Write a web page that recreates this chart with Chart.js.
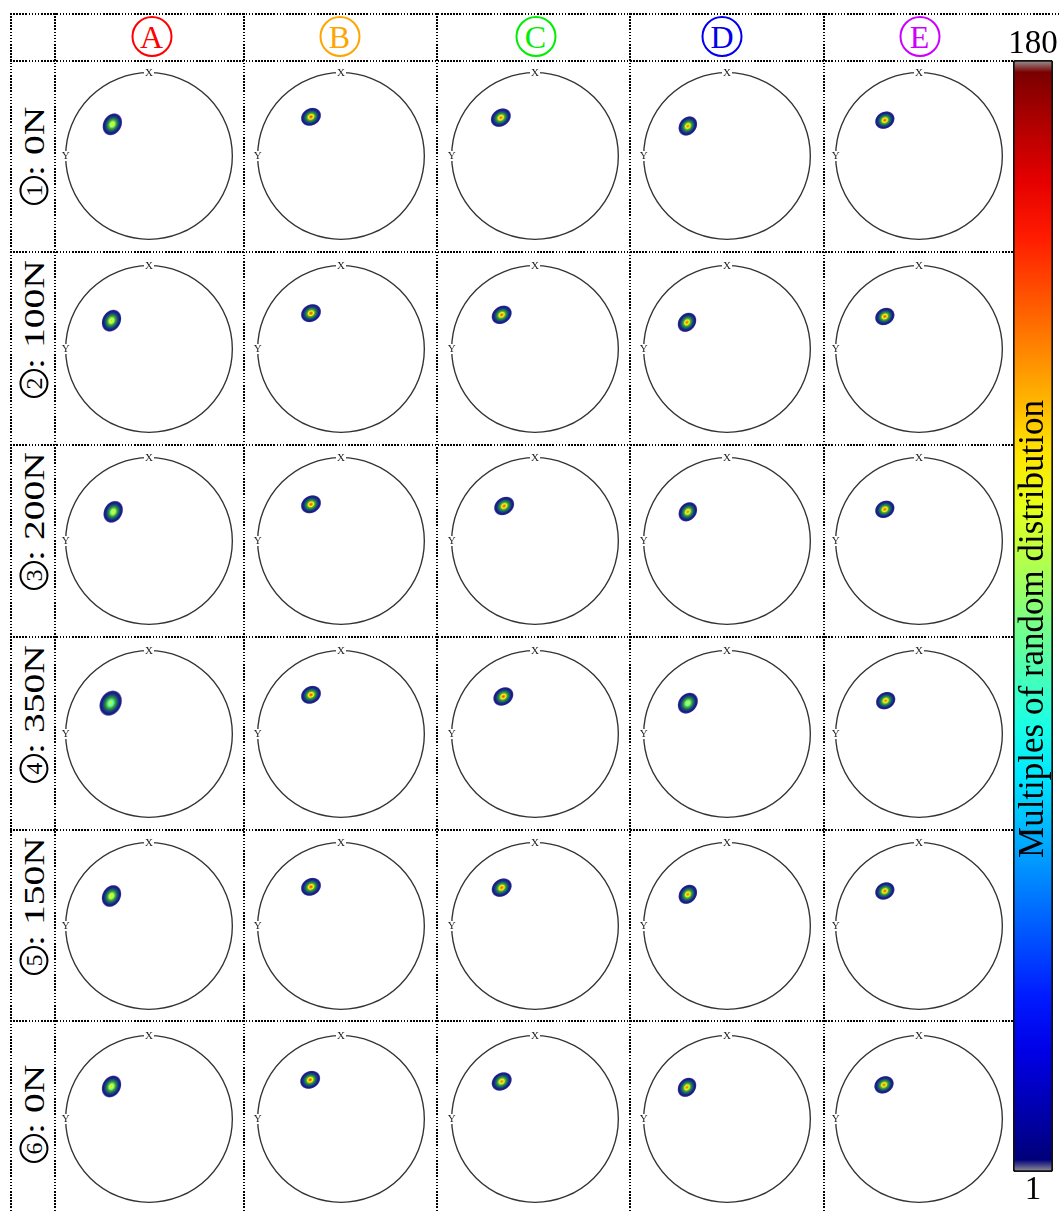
<!DOCTYPE html>
<html><head><meta charset="utf-8">
<script src="https://cdn.jsdelivr.net/npm/chart.js@4.4.1/dist/chart.umd.min.js"></script>
<style>
html,body{margin:0;padding:0;background:#fff;}
#page{position:relative;width:1061px;height:1212px;overflow:hidden;font-family:"Liberation Serif","Times New Roman",serif;}
.hl{position:absolute;height:2px;background:repeating-linear-gradient(to right,#000 0 1.6px,transparent 1.6px 3.1px);}
.vl{position:absolute;width:2px;background:repeating-linear-gradient(to bottom,#000 0 1.6px,transparent 1.6px 3.1px);}
.hdr{position:absolute;top:16px;width:37px;height:37px;border:2px solid;border-radius:50%;text-align:center;line-height:39px;font-size:32px;transform:translateX(-50%);}
.rl{position:absolute;left:33px;transform-origin:0 0;transform:rotate(-90deg) translateY(-50%);white-space:nowrap;font-size:30px;line-height:34px;color:#000;}
.rl .tx{display:inline-block;transform-origin:0 50%;transform:scaleX(1.32);vertical-align:middle;}
.cd{display:inline-block;width:25px;height:25px;border:2px solid #000;border-radius:50%;text-align:center;line-height:27px;font-size:24px;vertical-align:middle;position:relative;top:-1px;}
.pf{position:absolute;width:190px;height:190px;}
</style></head>
<body><div id="page"></div>
<script>
// ---------------- DATA ----------------
const columns = ['A', 'B', 'C', 'D', 'E'];
const rowNumbers = ['1', '2', '3', '4', '5', '6'];
const loads = ['0N', '100N', '200N', '350N', '150N', '0N'];
// pole-figure coordinates of the main texture peak (unit circle, X up, Y left negative)
const spotX = [
  [-0.44, -0.36, -0.41, -0.47, -0.41],
  [-0.45, -0.36, -0.40, -0.48, -0.41],
  [-0.43, -0.36, -0.37, -0.47, -0.41],
  [-0.46, -0.36, -0.38, -0.47, -0.40],
  [-0.45, -0.36, -0.40, -0.47, -0.41],
  [-0.45, -0.37, -0.40, -0.48, -0.42]
];
const spotY = [
  [0.38, 0.47, 0.46, 0.36, 0.43],
  [0.34, 0.43, 0.41, 0.32, 0.39],
  [0.35, 0.44, 0.42, 0.35, 0.38],
  [0.37, 0.47, 0.45, 0.37, 0.40],
  [0.36, 0.47, 0.46, 0.38, 0.42],
  [0.39, 0.47, 0.45, 0.38, 0.41]
];
// peak intensity (multiples of random distribution)
const peakMRD = [
  [122, 152, 145, 142, 150],
  [124, 152, 148, 145, 150],
  [120, 150, 148, 140, 148],
  [108, 152, 150, 112, 142],
  [124, 152, 148, 142, 148],
  [120, 152, 142, 142, 145]
];
// relative spread of the peak
const spread = [
  [1.0, 1.0, 1.0, 1.0, 1.0],
  [1.0, 1.0, 1.0, 1.0, 1.0],
  [1.0, 1.0, 1.0, 1.0, 1.0],
  [1.15, 1.0, 1.0, 1.08, 1.0],
  [1.0, 1.0, 1.0, 1.0, 1.0],
  [1.0, 1.0, 1.0, 1.0, 1.0]
];
const colorbarRange = [1, 180];
const colorbarTitle = 'Multiples of random distribution';

// ---------------- LAYOUT / STYLE ----------------
const page = document.getElementById('page');
const headerColors = ['#ff0000', '#ffa500', '#00ee00', '#0000ee', '#cc00ff'];
const headerX = [151.5, 339.5, 535.5, 722, 919.5];
const cellCX = [148.5, 341, 534.5, 727, 919];
const cellCY = [156, 348.5, 541, 733.5, 926, 1118.5];
const labelStartY = [205, 397.5, 590, 782.5, 975, 1163];
const spotShape = [ // semi-major, semi-minor (units of circle radius), tilt deg
  [0.145, 0.115, 60], [0.132, 0.108, 30], [0.135, 0.108, 35], [0.132, 0.107, 50], [0.128, 0.105, 30]
];

function addDiv(cls, style, html) {
  const d = document.createElement('div');
  d.className = cls; Object.assign(d.style, style);
  if (html !== undefined) d.innerHTML = html;
  page.appendChild(d); return d;
}
// grid
addDiv('hl', {left: '10px', top: '13px', width: '1051px'});
addDiv('hl', {left: '10px', top: '59.5px', width: '1003px'});
[252, 444.5, 637, 829.5, 1021].forEach(y => addDiv('hl', {left: '10px', top: (y - 1) + 'px', width: '1003px'}));
[10.5, 55, 243.5, 437, 630, 823.5].forEach(x => addDiv('vl', {left: (x - 1) + 'px', top: '13px', height: '1199px'}));
// headers
columns.forEach((c, i) => addDiv('hdr', {left: headerX[i] + 'px', color: headerColors[i], borderColor: headerColors[i]}, c));
// row labels
loads.forEach((l, i) => addDiv('rl', {top: labelStartY[i] + 'px'}, '<span class="cd">' + rowNumbers[i] + '</span><span class="tx">:&nbsp;' + l + '</span>'));

function jet(v) {
  const f = Math.max(0, Math.min(1, (v - colorbarRange[0]) / (colorbarRange[1] - colorbarRange[0])));
  const cl = t => Math.round(255 * Math.max(0, Math.min(1, t)));
  return 'rgb(' + cl(1.5 - Math.abs(4 * f - 3)) + ',' + cl(1.5 - Math.abs(4 * f - 2)) + ',' + cl(1.5 - Math.abs(4 * f - 1)) + ')';
}

const L = 1.14;
const pfPlugin = {
  id: 'pf',
  beforeDatasetsDraw(chart) {
    const {ctx, scales: {x, y}} = chart;
    const cx = x.getPixelForValue(0), cy = y.getPixelForValue(0);
    const r = x.getPixelForValue(1) - cx;
    ctx.save();
    ctx.strokeStyle = '#333'; ctx.lineWidth = 1.35;
    ctx.beginPath(); ctx.arc(cx, cy, r, 0, Math.PI * 2); ctx.stroke();
    ctx.font = '11px "Liberation Serif"'; ctx.textAlign = 'center'; ctx.textBaseline = 'middle';
    const xt = y.getPixelForValue(1);
    ctx.fillStyle = '#fff'; ctx.fillRect(cx - 5, xt - 4, 10, 8);
    ctx.fillStyle = '#222'; ctx.fillText('X', cx, xt + 0.5);
    const yl = x.getPixelForValue(-1);
    ctx.fillStyle = '#fff'; ctx.fillRect(yl - 4, cy - 5, 8, 10);
    ctx.fillStyle = '#222'; ctx.fillText('Y', yl, cy + 0.5);
    ctx.restore();
  },
  afterDatasetsDraw(chart) {
    const {ctx, scales: {x}} = chart;
    const unit = x.getPixelForValue(1) - x.getPixelForValue(0);
    chart.data.datasets.forEach((ds, di) => {
      const meta = chart.getDatasetMeta(di);
      meta.data.forEach((el, i) => {
        const d = ds.data[i];
        ctx.save();
        ctx.translate(el.x, el.y);
        ctx.rotate(-d.tilt * Math.PI / 180);
        ctx.scale(d.a * unit * d.s, d.b * unit * d.s);
        const g = ctx.createRadialGradient(0, 0, 0, 0, 0, 1);
        g.addColorStop(0.0, jet(d.peak));
        g.addColorStop(0.12, jet(d.peak * 0.88));
        g.addColorStop(0.24, jet(d.peak * 0.72));
        g.addColorStop(0.36, '#62a82a');
        g.addColorStop(0.47, '#268646');
        g.addColorStop(0.57, '#136066');
        g.addColorStop(0.67, '#17388e');
        g.addColorStop(0.78, '#1a1a7c');
        g.addColorStop(0.88, '#24248a');
        g.addColorStop(0.94, 'rgba(110,110,190,0.8)');
        g.addColorStop(1.0, 'rgba(180,180,230,0)');
        ctx.fillStyle = g;
        ctx.beginPath(); ctx.arc(0, 0, 1, 0, Math.PI * 2); ctx.fill();
        ctx.restore();
      });
    });
  }
};

for (let r = 0; r < loads.length; r++) {
  for (let c = 0; c < columns.length; c++) {
    const w = addDiv('pf', {left: (cellCX[c] - 95) + 'px', top: (cellCY[r] - 95) + 'px'});
    const cv = document.createElement('canvas'); cv.width = 190; cv.height = 190; w.appendChild(cv);
    new Chart(cv, {
      type: 'scatter',
      data: {datasets: [{
        data: [{x: spotX[r][c], y: spotY[r][c], peak: peakMRD[r][c], s: spread[r][c],
                a: spotShape[c][0], b: spotShape[c][1], tilt: spotShape[c][2]}],
        pointRadius: 0
      }]},
      options: {
        responsive: false, animation: false, events: [], devicePixelRatio: 1,
        layout: {padding: 0},
        plugins: {legend: {display: false}, tooltip: {enabled: false}},
        scales: {x: {type: 'linear', min: -L, max: L, display: false},
                 y: {type: 'linear', min: -L, max: L, display: false}}
      },
      plugins: [pfPlugin]
    });
  }
}

// colorbar
const cbw = addDiv('', {position: 'absolute', left: '1000px', top: '0px', width: '61px', height: '1212px'});
const cbc = document.createElement('canvas'); cbc.width = 61; cbc.height = 1212; cbw.appendChild(cbc);
const cbPlugin = {
  id: 'cb',
  afterDraw(chart) {
    const {ctx, scales: {y}, chartArea: a} = chart;
    const cx = (a.left + a.right) / 2;
    ctx.save();
    ctx.fillStyle = '#000'; ctx.textAlign = 'center'; ctx.textBaseline = 'alphabetic';
    ctx.font = '33px "Liberation Serif"';
    ctx.fillText(String(colorbarRange[1]), cx, y.getPixelForValue(colorbarRange[1]) - 7);
    ctx.fillText(String(colorbarRange[0]), cx, y.getPixelForValue(colorbarRange[0]) + 27);
    ctx.translate(a.right - 10, (a.top + a.bottom) / 2 + 13);
    ctx.rotate(-Math.PI / 2);
    ctx.font = '35px "Liberation Serif"';
    ctx.fillText(colorbarTitle, 0, 0);
    ctx.restore();
  }
};
new Chart(cbc, {
  type: 'bar',
  data: {labels: [''], datasets: [{
    data: [colorbarRange.slice()],
    backgroundColor: (c) => {
      const ch = c.chart, a = ch.chartArea;
      if (!a) return '#000';
      const g = ch.ctx.createLinearGradient(0, a.bottom, 0, a.top);
      g.addColorStop(0, '#9a9a9a');
      g.addColorStop(0.011, '#00007a');
      for (let k = 1; k < 20; k++) {
        const f = k / 20;
        g.addColorStop(0.011 + f * 0.978, jet(colorbarRange[0] + f * (colorbarRange[1] - colorbarRange[0])));
      }
      g.addColorStop(0.989, '#7a0000');
      g.addColorStop(1, '#9a9a9a');
      return g;
    },
    borderColor: '#111', borderWidth: 2, borderRadius: 3, borderSkipped: false,
    barPercentage: 1, categoryPercentage: 1
  }]},
  options: {
    responsive: false, animation: false, events: [], devicePixelRatio: 1,
    layout: {padding: {left: 13, right: 8, top: 60, bottom: 40}},
    plugins: {legend: {display: false}, tooltip: {enabled: false}},
    scales: {x: {display: false}, y: {min: colorbarRange[0], max: colorbarRange[1], display: false}}
  },
  plugins: [cbPlugin]
});
</script>
</body></html>
